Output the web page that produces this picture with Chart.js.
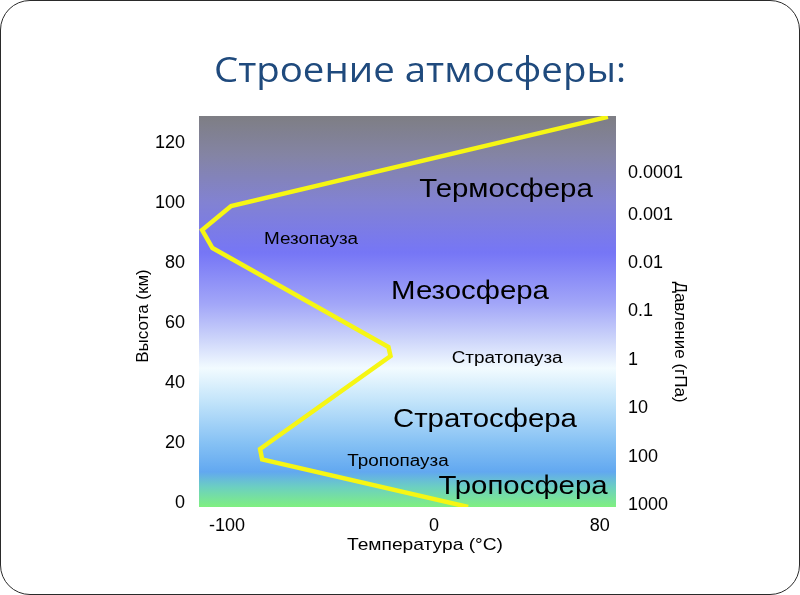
<!DOCTYPE html>
<html>
<head>
<meta charset="utf-8">
<script src="https://cdn.jsdelivr.net/npm/chart.js@4"></script>
<style>
  html, body { margin: 0; padding: 0; background: #fff; }
  #wrap { position: relative; width: 800px; height: 595px; overflow: hidden; }
  #frame { position: absolute; left: 0; top: 0; width: 800px; height: 595px; box-sizing: border-box;
           border: 1.5px solid #2a2a2a; border-radius: 30px; pointer-events: none; }
  #title { position: absolute; left: 0; width: 840px; top: 46px; text-align: center;
           font-family: "Open Sans", sans-serif; font-size: 34px; color: #1f4a7d; white-space: nowrap;
           transform: scaleX(1.13); transform-origin: 420px 0; }
  canvas { position: absolute; left: 0; top: 0; }
</style>
</head>
<body>
<div id="wrap">
  <canvas id="c" width="800" height="595"></canvas>
  <div id="title">Строение атмосферы:</div>
  <div id="frame"></div>
</div>
<script>
// ---- data ----
const temperature = [16.5, -83, -84, -21, -22, -107, -112, -98, 84];   // °C
const altitude    = [-1.3, 14.5, 18, 49, 52, 85, 91, 99, 128.7];       // km
const altTicks    = [0, 20, 40, 60, 80, 100, 120];
const tempTicks   = [-100, 0, 80];
const pressureLabels = ['1000', '100', '10', '1', '0.1', '0.01', '0.001', '0.0001'];
const pressureAlt    = [-0.7, 15.3, 31.7, 47.7, 64, 80, 96, 110];
const layerNames = ['Термосфера', 'Мезопауза', 'Мезосфера', 'Стратопауза', 'Стратосфера', 'Тропопауза', 'Тропосфера'];
const layerTemp  = [34.8, -59.4, 17.4, 35.3, 24.6, -17.4, 43];
const layerAlt   = [104.3, 87.7, 70.3, 48, 27.7, 13.7, 5.3];
const layerBig   = [true, false, true, false, true, false, true];

const FONT = '"Liberation Sans", Arial, sans-serif';

const bgPlugin = {
  id: 'bg',
  beforeDatasetsDraw(chart) {
    const {ctx, chartArea: a} = chart;
    const g = ctx.createLinearGradient(0, a.top, 0, a.bottom);
    g.addColorStop(0.00, '#7e7e84');
    g.addColorStop(0.10, '#8484a4');
    g.addColorStop(0.22, '#8282d2');
    g.addColorStop(0.35, '#7676f6');
    g.addColorStop(0.48, '#a2a6f8');
    g.addColorStop(0.57, '#ccd4fa');
    g.addColorStop(0.645, '#f2fbff');
    g.addColorStop(0.73, '#c2e4fa');
    g.addColorStop(0.84, '#84c0f4');
    g.addColorStop(0.91, '#62a8f0');
    g.addColorStop(0.95, '#6cd0c0');
    g.addColorStop(1.00, '#80f080');
    ctx.save();
    ctx.fillStyle = g;
    ctx.fillRect(a.left, a.top, a.right - a.left, a.bottom - a.top);
    ctx.restore();
  }
};

function stretchedText(ctx, text, x, y, sx, rot) {
  ctx.save();
  ctx.translate(x, y);
  if (rot) ctx.rotate(rot);
  ctx.scale(sx, 1);
  ctx.fillText(text, 0, 0);
  ctx.restore();
}

const textPlugin = {
  id: 'texts',
  afterDraw(chart) {
    const {ctx} = chart;
    const xs = chart.scales.x, ys = chart.scales.y;
    ctx.save();
    ctx.fillStyle = '#000';
    ctx.textAlign = 'center';
    ctx.textBaseline = 'middle';
    layerNames.forEach((t, i) => {
      ctx.font = (layerBig[i] ? '26px ' : '16px ') + FONT;
      stretchedText(ctx, t, xs.getPixelForValue(layerTemp[i]), ys.getPixelForValue(layerAlt[i]),
                    layerBig[i] ? 1.13 : 1.18, 0);
    });
    // axis titles
    ctx.font = '17px ' + FONT;
    stretchedText(ctx, 'Температура (°C)', 425, 545, 1.13, 0);
    stretchedText(ctx, 'Высота (км)', 143, 316, 1.0, -Math.PI / 2);
    stretchedText(ctx, 'Давление (гПа)', 680, 342, 1.0, Math.PI / 2);
    ctx.restore();
  }
};

new Chart(document.getElementById('c'), {
  type: 'scatter',
  data: {
    datasets: [{
      data: temperature.map((t, i) => ({x: t, y: altitude[i]})),
      showLine: true,
      borderColor: '#f6f614',
      borderWidth: 4.5,
      pointRadius: 0,
      tension: 0,
      borderJoinStyle: 'miter'
    }]
  },
  options: {
    responsive: false,
    animation: false,
    devicePixelRatio: 1,
    layout: { padding: { top: 116, left: 0, right: 0, bottom: 0 } },
    plugins: { legend: { display: false }, tooltip: { enabled: false }, title: { display: false } },
    scales: {
      x: {
        type: 'linear', min: -113.5, max: 87.9,
        afterBuildTicks: s => { s.ticks = tempTicks.map(v => ({value: v})); },
        afterFit: s => { s.height = 88; },
        grid: { display: false, drawTicks: false }, border: { display: false },
        ticks: { color: '#000', font: { family: FONT, size: 18 }, padding: 8, maxRotation: 0 }
      },
      y: {
        type: 'linear', position: 'left', min: -1.33, max: 129,
        afterBuildTicks: s => { s.ticks = altTicks.map(v => ({value: v})); },
        afterFit: s => { s.width = 199; },
        grid: { display: false, drawTicks: false }, border: { display: false },
        ticks: { color: '#000', font: { family: FONT, size: 18 }, padding: 14 }
      },
      y2: {
        type: 'linear', position: 'right', min: -1.33, max: 129,
        afterBuildTicks: s => { s.ticks = pressureAlt.map(v => ({value: v})); },
        afterFit: s => { s.width = 184; },
        grid: { display: false, drawTicks: false }, border: { display: false },
        ticks: {
          color: '#000', font: { family: FONT, size: 18 }, padding: 12,
          callback: (v, i) => pressureLabels[i]
        }
      }
    }
  },
  plugins: [bgPlugin, textPlugin]
});
</script>
</body>
</html>
